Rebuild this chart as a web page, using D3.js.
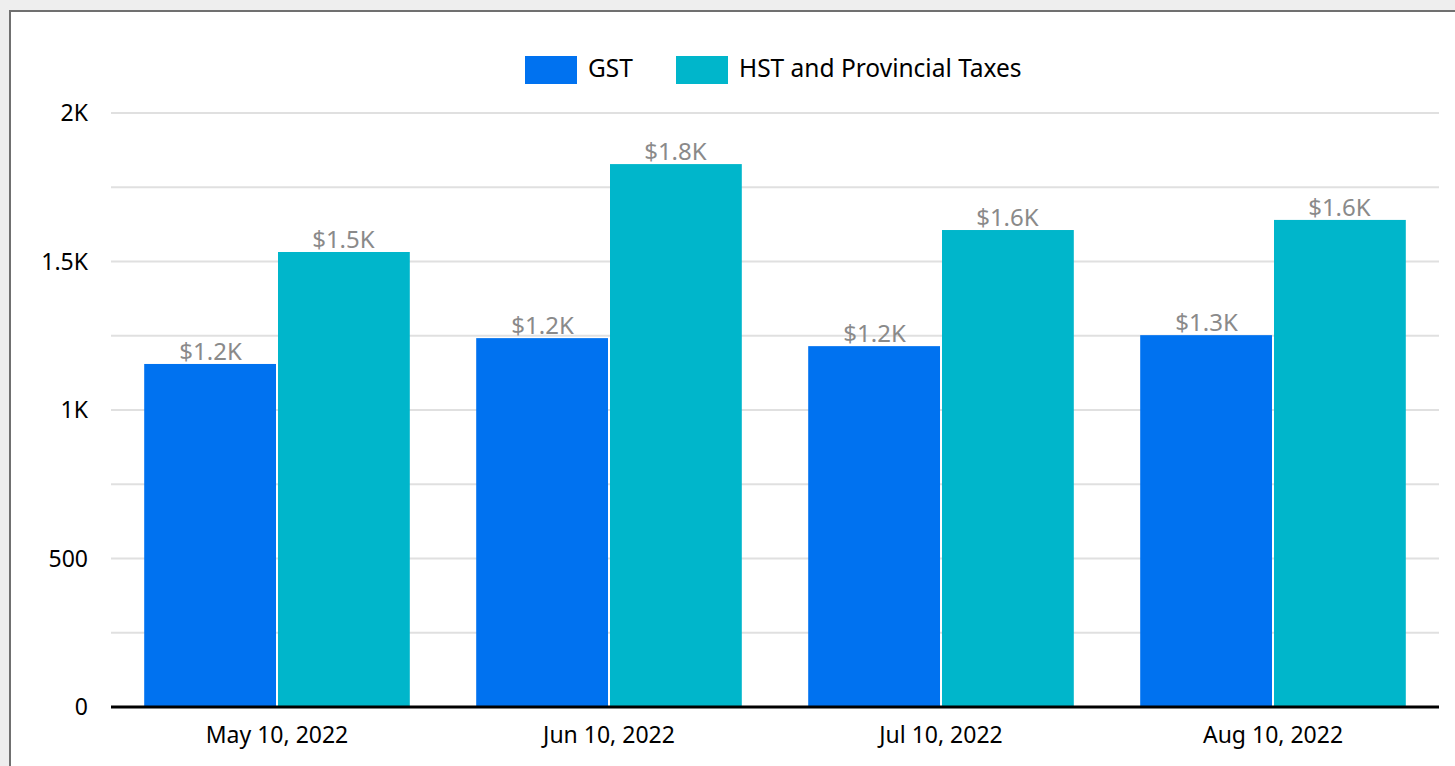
<!DOCTYPE html>
<html>
<head>
<meta charset="utf-8">
<script src="https://cdn.jsdelivr.net/npm/d3@7"></script>
<style>
  body { margin: 0; background: #eeeeee; overflow: hidden; }
  text { font-family: "Noto Sans", "Open Sans", sans-serif; }
</style>
</head>
<body>
<div id="chart"></div>
<script>
// Data
const dates = ["May 10, 2022", "Jun 10, 2022", "Jul 10, 2022", "Aug 10, 2022"];
const seriesNames = ["GST", "HST and Provincial Taxes"];
const gstValues = [1155, 1242, 1215, 1252];
const hstValues = [1532, 1828, 1606, 1640];
const yTicks = [0, 500, 1000, 1500, 2000];
const yTickLabels = ["0", "500", "1K", "1.5K", "2K"];
const colors = ["#0072f0", "#00b6cb"];

const W = 1455, H = 766;
const margin = { left: 111, top: 113, right: 16, bottom: 59 };
const width = W - margin.left - margin.right,
  height = H - margin.top - margin.bottom;

const svg = d3.select("#chart").append("svg")
  .attr("width", W)
  .attr("height", H);

// card with border
svg.append("rect")
  .attr("x", 10).attr("y", 11)
  .attr("width", W).attr("height", H)
  .attr("fill", "#ffffff")
  .attr("stroke", "#707070")
  .attr("stroke-width", 2);

const g = svg.append("g")
  .attr("transform", "translate(" + margin.left + "," + margin.top + ")");

//////////////////// Scales ////////////////////
const x0 = d3.scaleBand().domain(dates).range([0, width]).paddingInner(0.2).paddingOuter(0.1);
const x1 = d3.scaleBand().domain(seriesNames).range([0, x0.bandwidth()]).paddingInner(0.0);
const y = d3.scaleLinear().domain([0, 2000]).range([height, 0]);

// gridlines every 250
g.selectAll(".grid")
  .data(d3.range(250, 2001, 250))
  .enter().append("line")
  .attr("x1", 0).attr("x2", width)
  .attr("y1", d => y(d)).attr("y2", d => y(d))
  .attr("stroke", "#e0e0e0")
  .attr("stroke-width", 2);

// y axis labels
g.selectAll(".ylab")
  .data(yTicks)
  .enter().append("text")
  .attr("x", -23)
  .attr("y", d => y(d))
  .attr("dy", "0.36em")
  .attr("text-anchor", "end")
  .attr("font-size", 23)
  .attr("fill", "#000")
  .text((d, i) => yTickLabels[i]);

//////////////////// Bars ////////////////////
const rows = dates.map((d, i) => ({ date: d, values: [gstValues[i], hstValues[i]] }));

const groups = g.selectAll(".grp")
  .data(rows)
  .enter().append("g")
  .attr("transform", d => "translate(" + x0(d.date) + ",0)");

groups.selectAll("rect")
  .data(d => d.values.map((v, k) => ({ name: seriesNames[k], value: v, k: k })))
  .enter().append("rect")
  .attr("x", d => x1(d.name) + (d.k === 1 ? 1 : 0))
  .attr("width", x1.bandwidth() - 1)
  .attr("y", d => y(d.value))
  .attr("height", d => height - y(d.value))
  .attr("fill", d => colors[d.k]);

groups.selectAll(".val")
  .data(d => d.values.map((v, k) => ({ name: seriesNames[k], value: v })))
  .enter().append("text")
  .attr("x", d => x1(d.name) + x1.bandwidth() / 2)
  .attr("y", d => y(d.value) - 4)
  .attr("text-anchor", "middle")
  .attr("font-size", 24)
  .attr("fill", "#8a8a8a")
  .text(d => "$" + (d.value / 1000).toFixed(1) + "K");

// x axis baseline
g.append("line")
  .attr("x1", 0).attr("x2", width)
  .attr("y1", height).attr("y2", height)
  .attr("stroke", "#000")
  .attr("stroke-width", 3);

// x labels
g.selectAll(".xlab")
  .data(dates)
  .enter().append("text")
  .attr("x", d => x0(d) + x0.bandwidth() / 2)
  .attr("y", height + 36)
  .attr("text-anchor", "middle")
  .attr("font-size", 23)
  .attr("fill", "#000")
  .text(d => d);

//////////////////// Legend ////////////////////
const legend = svg.append("g").attr("transform", "translate(525,56)");
const legX = [0, 151];
seriesNames.forEach((name, i) => {
  legend.append("rect")
    .attr("x", legX[i]).attr("y", 0)
    .attr("width", 52).attr("height", 28)
    .attr("fill", colors[i]);
  legend.append("text")
    .attr("x", legX[i] + 63).attr("y", 21)
    .attr("font-size", 24.5)
    .attr("fill", "#000")
    .text(name);
});
</script>
</body>
</html>
